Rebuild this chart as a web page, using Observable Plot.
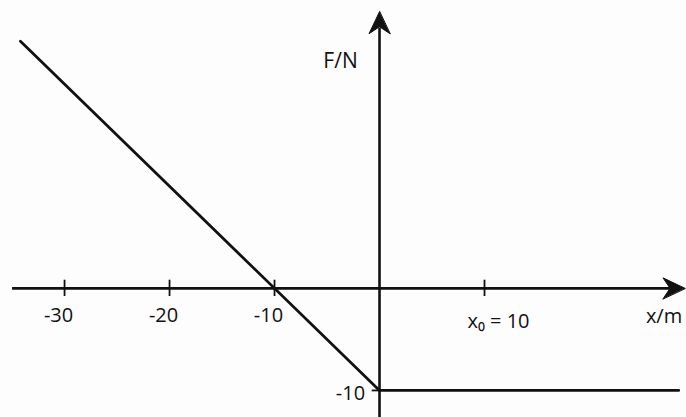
<!DOCTYPE html>
<html>
<head>
<meta charset="utf-8">
<script src="https://cdn.jsdelivr.net/npm/d3@7"></script>
<script src="https://cdn.jsdelivr.net/npm/@observablehq/plot@0.6"></script>
<style>
  html, body { margin: 0; padding: 0; background: #fdfdfd; }
  #chart svg { display: block; }
</style>
</head>
<body>
<div id="chart"></div>
<script>
// Force F (N) as a function of position x (m): linear for x < 0, constant beyond.
const forceX = [-34.2, 0, 28.5];
const forceF = [24.2, -10, -10];

// Axis ticks and their labels
const xTickValues = [-30, -20, -10, 10];
const xTickLabelValues = [-30, -20, -10];
const xTickLabels = ["-30", "-20", "-10"];
const yTickValues = [-10];
const yTickLabels = ["-10"];

// Axis titles and the marked position
const xAxisTitle = "x/m";
const yAxisTitle = "F/N";
const x0Value = 10;
const x0Label = "x\u2080 = " + x0Value;

const W = 686, H = 417;
const xDomain = [-36.1, 29.24];
const yDomain = [-12.65, 28.2];
const ink = "#111";
const font = "'Open Sans', 'DejaVu Sans', sans-serif";

const forceData = forceX.map((x, i) => ({x, F: forceF[i]}));

// Filled, notched arrowhead drawn along the vector direction, tip at the anchor
const arrowHead = {
  draw(ctx, l) {
    ctx.moveTo(0, -l);
    ctx.lineTo(-10.5, -l + 22);
    ctx.lineTo(0, -l + 15);
    ctx.lineTo(10.5, -l + 22);
    ctx.closePath();
  }
};

const chart = Plot.plot({
  width: W,
  height: H,
  margin: 0,
  style: {background: "transparent", fontFamily: font},
  x: {domain: xDomain, range: [0, W], axis: null},
  y: {domain: yDomain, range: [H, 0], axis: null},
  marks: [
    // x axis line with arrow
    Plot.ruleY([0], {x1: -34.95, x2: 28.4, stroke: ink, strokeWidth: 2.6}),
    Plot.vector([{x: 29.1, y: 0}], {x: "x", y: "y", length: 22, rotate: 90, anchor: "end",
      shape: arrowHead, fill: ink, stroke: ink, strokeWidth: 1}),
    // y axis line with arrow
    Plot.ruleX([0], {y1: yDomain[0], y2: 25.5, stroke: ink, strokeWidth: 2.6}),
    Plot.vector([{x: 0, y: 27.1}], {x: "x", y: "y", length: 22, rotate: 0, anchor: "end",
      shape: arrowHead, fill: ink, stroke: ink, strokeWidth: 1}),
    // tick marks
    Plot.ruleX(xTickValues, {y1: -0.8, y2: 0.8, stroke: ink, strokeWidth: 1.8}),
    Plot.ruleY(yTickValues, {x1: -0.7, x2: 0, stroke: ink, strokeWidth: 1.8}),
    // tick labels
    Plot.text(xTickLabelValues, {x: d => d, y: 0, dx: -6, dy: 27,
      text: (d, i) => xTickLabels[i], fontSize: 20, fill: ink}),
    Plot.text(yTickValues, {x: 0, y: d => d, dx: -29, dy: 3,
      text: (d, i) => yTickLabels[i], fontSize: 20, fill: ink}),
    // axis titles
    Plot.text([yAxisTitle], {x: 0, y: 22.2, dx: -39, text: d => d, fontSize: 21, fill: ink}),
    Plot.text([xAxisTitle], {x: 27.1, y: 0, dy: 28, text: d => d, fontSize: 20, fill: ink}),
    // marked position x0
    Plot.text([x0Label], {x: x0Value, y: 0, dx: 14, dy: 33, text: d => d, fontSize: 20, fill: ink}),
    // force curve
    Plot.line(forceData, {x: "x", y: "F", stroke: ink, strokeWidth: 2.8, strokeLinejoin: "miter"})
  ]
});

document.getElementById("chart").appendChild(chart);
</script>
</body>
</html>
